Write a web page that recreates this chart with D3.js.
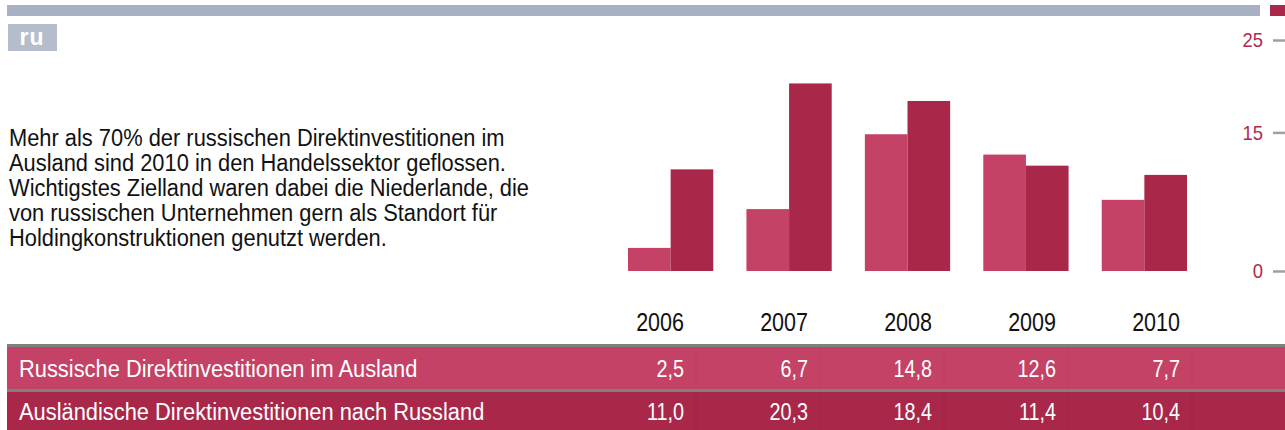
<!DOCTYPE html>
<html>
<head>
<meta charset="utf-8">
<script src="https://cdn.jsdelivr.net/npm/d3@7"></script>
<style>
  body { margin: 0; background: #fff; }
  svg text { font-family: "Liberation Sans", Arial, sans-serif; }
</style>
</head>
<body>
<svg id="chart" width="1285" height="430"></svg>
<script>
// data
var years = ["2006", "2007", "2008", "2009", "2010"];
var outward = [2.5, 6.7, 14.8, 12.6, 7.7];   // Russische Direktinvestitionen im Ausland
var inward = [11.0, 20.3, 18.4, 11.4, 10.4]; // Ausländische Direktinvestitionen nach Russland
var seriesNames = ["Russische Direktinvestitionen im Ausland", "Ausländische Direktinvestitionen nach Russland"];
var yTicks = [0, 15, 25];
var intro = [
  "Mehr als 70% der russischen Direktinvestitionen im",
  "Ausland sind 2010 in den Handelssektor geflossen.",
  "Wichtigstes Zielland waren dabei die Niederlande, die",
  "von russischen Unternehmen gern als Standort für",
  "Holdingkonstruktionen genutzt werden."
];

var pink = "#c44266", crimson = "#a9284a", grey = "#a8b1c3";

var svg = d3.select("#chart");

// no condensed font installed: squeeze Liberation Sans a bit
function narrow(k) {
  return function(sel) {
    sel.each(function() {
      var w = this.getComputedTextLength();
      d3.select(this).attr("textLength", w * k).attr("lengthAdjust", "spacingAndGlyphs");
    });
  };
}

// header strip
svg.append("rect").attr("x", 7).attr("y", 5).attr("width", 1253).attr("height", 11).attr("fill", grey);
svg.append("rect").attr("x", 1270).attr("y", 5).attr("width", 15).attr("height", 11).attr("fill", crimson);
svg.append("rect").attr("x", 8).attr("y", 24).attr("width", 49).attr("height", 27).attr("fill", "#b5bdcc");
svg.append("text").attr("x", 32).attr("y", 45).attr("text-anchor", "middle")
  .attr("fill", "#fff").style("font-weight", "bold").style("font-size", "23px")
  .style("letter-spacing", "1px").text("ru");

// intro text
svg.append("g").selectAll("text").data(intro).enter().append("text")
  .attr("x", 9).attr("y", function(d, i) { return 145.5 + i * 25.2; })
  .attr("fill", "#111").style("font-size", "23.5px")
  .text(function(d) { return d; })
  .call(narrow(0.93));

// scales
var x = d3.scaleBand().domain(years).range([628, 1187]).paddingInner(0.28).paddingOuter(0);
var y = d3.scaleLinear().domain([0, 25]).range([271, 40]);
var pairs = years.map(function(yr, i) { return { year: yr, values: [outward[i], inward[i]] }; });

var groups = svg.append("g").selectAll("g").data(pairs).enter().append("g")
  .attr("transform", function(d) { return "translate(" + x(d.year) + ",0)"; });
groups.selectAll("rect").data(function(d) { return d.values; }).enter().append("rect")
  .attr("x", function(d, i) { return i * x.bandwidth() / 2; })
  .attr("width", x.bandwidth() / 2)
  .attr("y", function(d) { return y(d); })
  .attr("height", function(d) { return y(0) - y(d); })
  .attr("fill", function(d, i) { return i === 0 ? pink : crimson; });

// right axis
var axis = svg.append("g").attr("transform", "translate(1285,0)")
  .call(d3.axisLeft(y).tickValues(yTicks).tickSize(12).tickPadding(10).tickFormat(d3.format("d")));
axis.select(".domain").remove();
axis.selectAll("line").attr("stroke", "#a0a0a0").attr("stroke-width", 2.5);
axis.selectAll("text").attr("fill", "#b12a4c").style("font-size", "21px")
  .style("font-family", "'Liberation Sans', Arial, sans-serif")
  .call(narrow(0.88));

// table
var col = d3.scaleBand().domain(years).range([560, 1180]).paddingInner(0);
var fmt = function(v) { return d3.format(".1f")(v).replace(".", ","); };

svg.append("g").selectAll("text").data(years).enter().append("text")
  .attr("x", function(d) { return col(d) + col.bandwidth(); })
  .attr("y", 331).attr("text-anchor", "end").attr("fill", "#111")
  .style("font-size", "25px").text(function(d) { return d; })
  .call(narrow(0.86));

var rows = [outward, inward];
var rowTop = [347, 392], rowH = [42, 38], rowBase = [376.5, 420], rowFill = [pink, crimson];
svg.append("rect").attr("x", 7).attr("y", 344).attr("width", 1278).attr("height", 3).attr("fill", "#808080");
svg.append("rect").attr("x", 7).attr("y", 389).attr("width", 1278).attr("height", 3).attr("fill", "#808080");

rows.forEach(function(vals, r) {
  var g = svg.append("g");
  g.append("rect").attr("x", 7).attr("y", rowTop[r]).attr("width", 1278).attr("height", rowH[r]).attr("fill", rowFill[r]);
  g.selectAll("line").data(years).enter().append("line")
    .attr("x1", function(d) { return col(d) + col.bandwidth() + 12; })
    .attr("x2", function(d) { return col(d) + col.bandwidth() + 12; })
    .attr("y1", rowTop[r]).attr("y2", rowTop[r] + rowH[r])
    .attr("stroke", "#000").attr("stroke-opacity", 0.06);
  g.append("text").attr("x", 19).attr("y", rowBase[r])
    .attr("fill", "#fff").style("font-size", "23.5px").text(seriesNames[r])
    .call(narrow(0.93));
  g.selectAll("text.v").data(vals).enter().append("text").attr("class", "v")
    .attr("x", function(d, i) { return col(years[i]) + col.bandwidth(); })
    .attr("y", rowBase[r]).attr("text-anchor", "end").attr("fill", "#fff")
    .style("font-size", "23px").text(fmt)
    .call(narrow(0.86));
});
</script>
</body>
</html>
